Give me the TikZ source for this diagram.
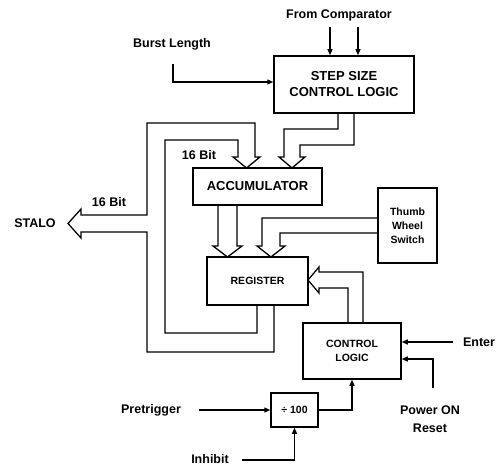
\documentclass[tikz,border=0pt]{standalone}
\usepackage{fontspec}
\setmainfont{Liberation Sans}
\usetikzlibrary{arrows.meta}
\begin{document}
\begin{tikzpicture}[x=1pt,y=-1pt,
  line width=1.3pt,
  box/.style={draw, line width=1.5pt, inner sep=0pt, align=center, font=\bfseries\fontsize{13}{16}\selectfont},
  smallbox/.style={box, font=\bfseries\fontsize{10.5}{14}\selectfont},
  lbl/.style={font=\bfseries\fontsize{12.5}{18}\selectfont, align=center, inner sep=0pt},
  arr/.style={-{Triangle[length=6pt,width=5pt]}},
  bus/.style={line width=1.3pt, line join=miter}]
\useasboundingbox (0,0) rectangle (503,468);

% boxes
\node[box, minimum width=140pt, minimum height=57pt] (step) at (344,84.5) {STEP SIZE\\CONTROL LOGIC};
\node[box, minimum width=129pt, minimum height=37pt] (acc) at (257.5,186.5) {ACCUMULATOR};
\node[smallbox, minimum width=101pt, minimum height=48pt] (reg) at (257.5,281) {REGISTER};
\node[smallbox, minimum width=59pt, minimum height=75pt] (thumb) at (407.5,225.5) {Thumb\\Wheel\\Switch};
\node[smallbox, minimum width=98pt, minimum height=56pt] (ctrl) at (352,351) {CONTROL\\LOGIC};
\node[smallbox, minimum width=47pt, minimum height=34pt] (div) at (294.5,410) {÷ 100};

% labels
\node[lbl] (fromc) at (339,15) {From Comparator};
\node[lbl] (burst) at (172,44) {Burst Length};
\node[lbl] (stalo) at (35,223) {STALO};
\node[lbl] (b16a) at (109,202) {16 Bit};
\node[lbl] (b16b) at (199,155) {16 Bit};
\node[lbl] (enter) at (479,342) {Enter};
\node[lbl] (power) at (430,419) {Power ON\\Reset};
\node[lbl] (pretrig) at (151,410) {Pretrigger};
\node[lbl] (inhibit) at (210,459) {Inhibit};

% single-line connectors
\coordinate (fc1) at (330,27);
\coordinate (fc2) at (358,27);
\draw[arr] (fc1) -- (fc1 |- step.north);
\draw[arr] (fc2) -- (fc2 |- step.north);
\coordinate (bl) at (173,64);
\draw[arr] (bl) |- ([yshift=2.5pt]step.west);
\coordinate (en) at (453,342);
\draw[arr] (en) -- ([yshift=9pt]ctrl.east);
\coordinate (po) at (433,388);
\draw[arr] (po) |- ([yshift=-8pt]ctrl.east);
\coordinate (pt) at (199,410);
\draw[arr] (pt) -- (div.west);
\draw[arr] (div.east) -| (ctrl.south);
\coordinate (inh) at (242,460);
\draw[arr] (inh) -| (div.south);

% hollow bus arrows
% step size -> accumulator
\draw[bus] (338,113) -- (338,129) -- (284,129) -- (284,157) -- (279,157) -- (292,168)
  -- (305,157) -- (300,157) -- (300,145) -- (354,145) -- (354,113);
% accumulator -> register
\draw[bus] (218,205) -- (218,246) -- (213,246) -- (227.5,257) -- (242,246) -- (237,246) -- (237,205);
% thumb wheel -> register
\draw[bus] (378,218) -- (262,218) -- (262,246) -- (257,246) -- (271,257) -- (285,246)
  -- (280,246) -- (280,233) -- (378,233);
% control logic -> register
\draw[bus] (363,323) -- (363,272) -- (319,272) -- (319,267) -- (308,280) -- (319,293)
  -- (319,288) -- (348,288) -- (348,323);
% register feedback -> accumulator and STALO
\draw[bus] (257,305) -- (257,333) -- (165,333) -- (165,140) -- (238,140) -- (238,157)
  -- (233,157) -- (246.5,168) -- (260,157) -- (255,157) -- (255,123) -- (147,123)
  -- (147,215) -- (81,215) -- (81,209) -- (68,223.5) -- (81,238) -- (81,232)
  -- (147,232) -- (147,352) -- (274,352) -- (274,305);
\end{tikzpicture}
\end{document}
